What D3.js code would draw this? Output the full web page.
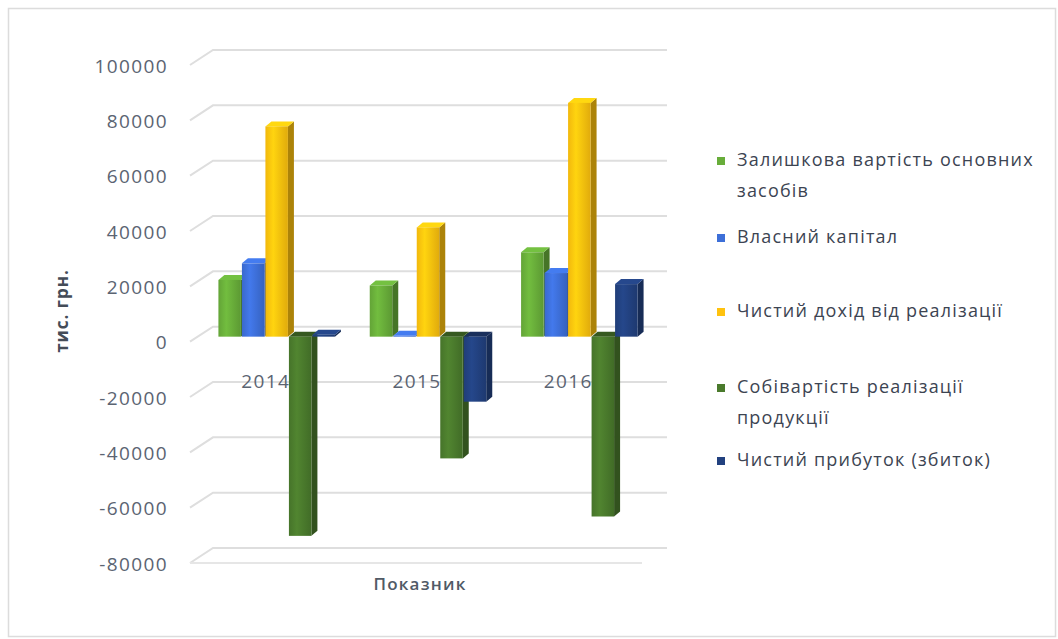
<!DOCTYPE html>
<html>
<head>
<meta charset="utf-8">
<script src="https://cdn.jsdelivr.net/npm/d3@7"></script>
<style>
  body { margin: 0; background: #fff; }
  svg { display: block; font-family: 'Open Sans', 'DejaVu Sans', sans-serif; }
</style>
</head>
<body>
<svg width="1058" height="639"></svg>
<script>
// data
const years = ['2014', '2015', '2016']
const seriesNames = [
    'Залишкова вартість основних засобів',
    'Власний капітал',
    'Чистий дохід від реалізації',
    'Собівартість реалізації продукції',
    'Чистий прибуток (збиток)'
]
const residualValue = [20500, 18500, 30500]
const equity = [26500, 300, 23000]
const netIncome = [76000, 39500, 84500]
const costOfSales = [-72000, -44000, -65000]
const netProfit = [700, -23500, 19000]
const yTicks = [-80000, -60000, -40000, -20000, 0, 20000, 40000, 60000, 80000, 100000]

const seriesValues = [residualValue, equity, netIncome, costOfSales, netProfit]
const colors = ['#68ad3a', '#3d6fd8', '#ffc20e', '#4a7a2c', '#22417f']
// legend lines (manual wrapping like the original)
const legendLines = [
    ['Залишкова вартість основних', 'засобів'],
    ['Власний капітал'],
    ['Чистий дохід від реалізації'],
    ['Собівартість реалізації', 'продукції'],
    ['Чистий прибуток (збиток)']
]
const legendRowY = [161, 238, 312, 388, 461]

const svg = d3.select('svg')

// outer frame
svg.append('rect')
.attr('x', 8.5).attr('y', 8.5)
.attr('width', 1047).attr('height', 628)
.attr('fill', 'none')
.attr('stroke', '#dcdcdc')
.attr('stroke-width', 1.5)

// back wall scales
let y = d3.scaleLinear().domain([-80000, 100000]).range([548, 50])
let x = d3.scaleBand().domain(years).range([213, 667])

// 3d offsets
const depthX = -23, depthY = 15      // back wall -> front edge
const planeX = -11.5, planeY = 10    // back wall -> plane of the bars
const sideX = 6, sideY = 5           // bar depth

// gridlines: back wall + left wall diagonal
let grid = svg.append('g')
grid.selectAll('path.grid')
.data(yTicks)
.enter()
.append('path')
.attr('class', 'grid')
.attr('d', (d) => `M${x.range()[0] + depthX},${y(d) + depthY} L${x.range()[0]},${y(d)} L${x.range()[1]},${y(d)}`)
.attr('fill', 'none')
.attr('stroke', '#dedede')
.attr('stroke-width', 2)

// floor front edge
grid.append('path')
.attr('d', `M${x.range()[0] + depthX},${y(-80000) + depthY} L${x.range()[1] + depthX - 2},${y(-80000) + depthY}`)
.attr('stroke', '#e6e6e6')
.attr('stroke-width', 2)

// value axis labels
let yFront = y.copy().range(y.range().map((r) => r + depthY + 1))
let yAxis = svg.append('g')
.attr('transform', 'translate(177,0)')
.call(d3.axisLeft(yFront).tickValues(yTicks).tickSize(0).tickPadding(9).tickFormat((d) => String(d)))
yAxis.select('.domain').remove()
yAxis.selectAll('text')
.attr('font-size', 19)
.attr('letter-spacing', 1.4)
.attr('font-family', "'Open Sans', sans-serif")
.attr('fill', '#5b6472')

// category labels (drawn before the bars, bars cover them)
let xFront = x.copy().range(x.range().map((r) => r + depthX))
svg.selectAll('text.cat')
.data(years)
.enter()
.append('text')
.attr('class', 'cat')
.attr('x', (d) => xFront(d) + xFront.bandwidth() / 2)
.attr('y', 383)
.attr('text-anchor', 'middle')
.attr('dominant-baseline', 'middle')
.attr('font-size', 19)
.attr('letter-spacing', 1.4)
.attr('fill', '#5b6472')
.text((d) => d)

// gradients for bar faces
let defs = svg.append('defs')
colors.forEach((c, i) => {
    let g = defs.append('linearGradient')
    .attr('id', 'grad' + i)
    .attr('x1', 0).attr('x2', 1).attr('y1', 0).attr('y2', 0)
    g.append('stop').attr('offset', '0%').attr('stop-color', d3.color(c).darker(0.15))
    g.append('stop').attr('offset', '35%').attr('stop-color', d3.color(c).brighter(0.25))
    g.append('stop').attr('offset', '100%').attr('stop-color', d3.color(c).darker(0.35))
})

// bars
const groupW = 117.5
let x1 = d3.scaleBand().domain(d3.range(seriesNames.length)).range([0, groupW])
const barW = x1.bandwidth() - 1

let bars = []
years.forEach((yr, ci) => {
    seriesValues.forEach((vals, si) => {
        bars.push({year: yr, s: si, value: vals[ci]})
    })
})

let barG = svg.selectAll('g.bar')
.data(bars)
.enter()
.append('g')
.attr('class', 'bar')

function barX (d) {
    return x(d.year) + (x.bandwidth() - groupW) / 2 + planeX + x1(d.s)
}
function barTop (d) { return y(Math.max(0, d.value)) + planeY }
function barBottom (d) { return y(Math.min(0, d.value)) + planeY }

// side face
barG.append('path')
.attr('d', (d) => {
    let x0 = barX(d) + barW, t = barTop(d), b = barBottom(d)
    return `M${x0},${t} L${x0 + sideX},${t - sideY} L${x0 + sideX},${b - sideY} L${x0},${b} Z`
})
.attr('fill', (d) => d3.color(colors[d.s]).darker(1.1))

// top face
barG.append('path')
.attr('d', (d) => {
    let x0 = barX(d), t = barTop(d)
    return `M${x0},${t} L${x0 + barW},${t} L${x0 + barW + sideX},${t - sideY} L${x0 + sideX},${t - sideY} Z`
})
.attr('fill', (d) => d.value < 0 ? d3.color(colors[d.s]).darker(0.9) : d3.color(colors[d.s]).brighter(0.3))

// front face
barG.append('rect')
.attr('x', barX)
.attr('y', barTop)
.attr('width', barW)
.attr('height', (d) => Math.max(0.5, barBottom(d) - barTop(d)))
.attr('fill', (d) => `url(#grad${d.s})`)

// axis titles
svg.append('text')
.attr('transform', 'translate(63,311) rotate(-90)')
.attr('text-anchor', 'middle')
.attr('dominant-baseline', 'middle')
.attr('font-size', 17)
.attr('font-weight', 'bold')
.attr('letter-spacing', 1)
.attr('fill', '#444c58')
.text('тис. грн.')

svg.append('text')
.attr('x', 420)
.attr('y', 585)
.attr('text-anchor', 'middle')
.attr('dominant-baseline', 'middle')
.attr('font-size', 17)
.attr('font-weight', 600)
.attr('letter-spacing', 1.2)
.attr('fill', '#515a66')
.text('Показник')

// legend
let legend = svg.selectAll('g.legend')
.data(seriesNames)
.enter()
.append('g')
.attr('class', 'legend')
.attr('transform', (d, i) => `translate(717,${legendRowY[i]})`)

legend.append('rect')
.attr('x', 0).attr('y', -4)
.attr('width', 8).attr('height', 8)
.attr('fill', (d, i) => colors[i])

legend.each(function (d, i) {
    let t = d3.select(this).append('text')
    .attr('x', 20)
    .attr('font-size', 18)
    .attr('letter-spacing', 1.2)
    .attr('fill', '#3c4452')
    legendLines[i].forEach((line, k) => {
        t.append('tspan')
        .attr('x', 20)
        .attr('y', k * 31)
        .attr('dominant-baseline', 'middle')
        .text(line)
    })
})
</script>
</body>
</html>
